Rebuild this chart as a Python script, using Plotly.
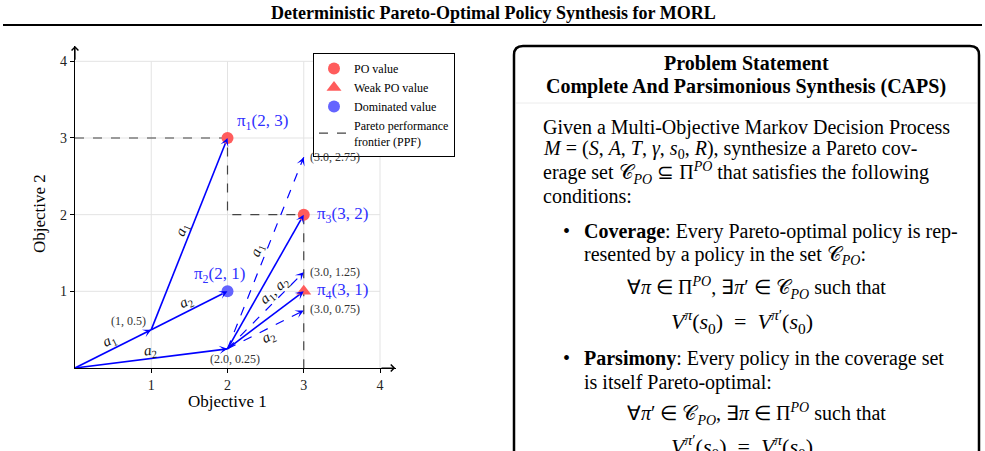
import plotly.graph_objects as go

W, H = 985, 451
SERIF = "Liberation Serif"

# ---------------- data ----------------
policy_labels = ["π<sub>1</sub>(2, 3)", "π<sub>2</sub>(2, 1)", "π<sub>3</sub>(3, 2)", "π<sub>4</sub>(3, 1)"]
policy_obj1 = [2, 2, 3, 3]
policy_obj2 = [3, 1, 2, 1]
policy_kind = ["PO", "Dominated", "PO", "Weak PO"]

ppf_obj1 = [0, 2, 2, 3, 3]
ppf_obj2 = [3, 3, 2, 2, 0]

arrow_x0 = [0, 1, 1, 0, 2, 2, 2, 2, 2]
arrow_y0 = [0, 0.5, 0.5, 0, 0.25, 0.25, 0.25, 0.25, 0.25]
arrow_x1 = [1, 2, 2, 2, 3, 3, 3, 3, 3]
arrow_y1 = [0.5, 3, 1, 0.25, 2, 2.75, 1, 1.25, 0.75]
arrow_dashed = [False, False, False, False, False, True, False, True, True]
arrow_label = ["<i>a</i><sub>1</sub>", "<i>a</i><sub>1</sub>", "<i>a</i><sub>2</sub>", "<i>a</i><sub>2</sub>", "",
               "<i>a</i><sub>1</sub>", "", "<i>a</i><sub>1</sub>, <i>a</i><sub>2</sub>", "<i>a</i><sub>2</sub>"]

state_obj1 = [1, 2, 3, 3, 3]
state_obj2 = [0.5, 0.25, 2.75, 1.25, 0.75]
state_text = ["(1, 0.5)", "(2.0, 0.25)", "(3.0, 2.75)", "(3.0, 1.25)", "(3.0, 0.75)"]

tick_vals = [1, 2, 3, 4]
tick_text = ["1", "2", "3", "4"]

# ---------------- styles / layout helpers ----------------
X0PX, Y0PX = 75, 368          # pixel position of origin
XR, YR = [0, 4.21], [0, 4.2]
XPPU = 76.25
YPPU = 76.67
xdom = [X0PX / W, (X0PX + XR[1] * XPPU) / W]
ydom = [(H - Y0PX) / H, (H - Y0PX + YR[1] * YPPU) / H]

def P(xpx):
    return xpx / W

def Q(ypx):
    return 1 - ypx / H

BLUE = "#0000ff"
LBLUE = "#3030ff"
RED = "#ff5c5c"
DBLUE = "#6464ff"

# label offsets (pixels) for arrow labels: (xshift, yshift, textangle, t along segment)
arrow_label_style = [(-4, 8, -26.7, 0.5), (-7, 4, -68, 0.5), (-3, 8, -26.7, 0.5), (-1, 7, -7.2, 0.5),
                     (0, 0, 0, 0.5), (-8, 3, -68, 0.5), (0, 0, 0, 0.5), (1, 12, -42, 0.6), (3, -7, -26.7, 0.5)]
policy_label_style = [("left", 7, 16), ("center", -8, 16), ("left", 11, 0), ("left", 11, 0)]
state_label_style = [("right", -3, 9), ("center", 7, -10), ("left", 4, 0), ("left", 4, 0), ("left", 4, 1)]

fig = go.Figure()

# arrows (shafts)
for x0, y0, x1, y1, d in zip(arrow_x0, arrow_y0, arrow_x1, arrow_y1, arrow_dashed):
    fig.add_trace(go.Scatter(x=[x0, x1], y=[y0, y1], mode="lines", showlegend=False, hoverinfo="skip",
                             cliponaxis=False,
                             line=dict(color=BLUE, width=1.2 if d else 1.6, dash="dash" if d else "solid")))

# Pareto performance frontier
fig.add_trace(go.Scatter(x=ppf_obj1, y=ppf_obj2, mode="lines", name="Pareto performance<br>frontier (PPF)",
                         legendrank=4, cliponaxis=False,
                         line=dict(color="#444444", width=1.2, dash="dash")))

kind_style = {"PO": ("PO value", "circle", RED, 12, 1),
              "Weak PO": ("Weak PO value", "triangle-up", RED, 13, 2),
              "Dominated": ("Dominated value", "circle", DBLUE, 12, 3)}
for kind in ["PO", "Weak PO", "Dominated"]:
    name, sym, col, sz, rank = kind_style[kind]
    xs = [x for x, k in zip(policy_obj1, policy_kind) if k == kind]
    ys = [y for y, k in zip(policy_obj2, policy_kind) if k == kind]
    fig.add_trace(go.Scatter(x=xs, y=ys, mode="markers", name=name, legendrank=rank, cliponaxis=False,
                             marker=dict(symbol=sym, size=sz, color=col, line=dict(width=0))))

annotations = []
# arrow heads
for x0, y0, x1, y1 in zip(arrow_x0, arrow_y0, arrow_x1, arrow_y1):
    dxp = (x1 - x0) * XPPU
    dyp = (y1 - y0) * YPPU
    L = (dxp ** 2 + dyp ** 2) ** 0.5
    f = 6.0 / L
    annotations.append(dict(x=x1, y=y1, ax=x1 - (x1 - x0) * f, ay=y1 - (y1 - y0) * f,
                            xref="x", yref="y", axref="x", ayref="y", text="", showarrow=True,
                            arrowhead=3, arrowsize=1.0, arrowwidth=1.4, arrowcolor=BLUE))

# arrow labels
for x0, y0, x1, y1, lab, st in zip(arrow_x0, arrow_y0, arrow_x1, arrow_y1, arrow_label, arrow_label_style):
    if not lab:
        continue
    xs, ys, ang, t = st
    annotations.append(dict(x=x0 + (x1 - x0) * t, y=y0 + (y1 - y0) * t, xref="x", yref="y",
                            text=lab, showarrow=False, xshift=xs, yshift=ys, textangle=ang,
                            xanchor="center", yanchor="middle",
                            font=dict(family=SERIF, size=15, color="#111111")))

# policy labels
for x, y, lab, st in zip(policy_obj1, policy_obj2, policy_labels, policy_label_style):
    xa, xs, ys = st
    annotations.append(dict(x=x, y=y, xref="x", yref="y", text=lab, showarrow=False, xanchor=xa,
                            yanchor="middle",
                            xshift=xs, yshift=ys, font=dict(family=SERIF, size=17, color=LBLUE)))

# state labels
for x, y, lab, st in zip(state_obj1, state_obj2, state_text, state_label_style):
    xa, xs, ys = st
    annotations.append(dict(x=x, y=y, xref="x", yref="y", text=lab, showarrow=False, xanchor=xa,
                            yanchor="middle",
                            xshift=xs, yshift=ys, font=dict(family=SERIF, size=12, color="#333333")))

# axis arrow tips
annotations.append(dict(x=4.2, y=0, ax=4.0, ay=0, xref="x", yref="y", axref="x", ayref="y", text="",
                        showarrow=True, arrowhead=4, arrowsize=1.1, arrowwidth=1.2, arrowcolor="black"))
annotations.append(dict(x=0, y=4.2, ax=0, ay=4.0, xref="x", yref="y", axref="x", ayref="y", text="",
                        showarrow=True, arrowhead=4, arrowsize=1.1, arrowwidth=1.2, arrowcolor="black"))

# axis titles
annotations.append(dict(x=P(227), y=Q(401), xref="paper", yref="paper", text="Objective 1", showarrow=False,
                        xanchor="center", yanchor="middle",
                        font=dict(family=SERIF, size=17, color="black")))
annotations.append(dict(x=P(39), y=Q(214), xref="paper", yref="paper", text="Objective 2", showarrow=False,
                        xanchor="center", yanchor="middle",
                        textangle=-90, font=dict(family=SERIF, size=17, color="black")))

# page title
annotations.append(dict(x=P(493), y=Q(13), xref="paper", yref="paper",
                        text="<b>Deterministic Pareto-Optimal Policy Synthesis for MORL</b>", showarrow=False,
                        xanchor="center", yanchor="middle",
                        font=dict(family=SERIF, size=18, color="black")))

# problem statement box text
CC = "𝒞"
SP = "\u2002"
box_lines = [
    ("<b>Problem Statement</b>", 746, 63, "center", 20),
    ("<b>Complete And Parsimonious Synthesis (CAPS)</b>", 746, 86, "center", 20),
    ("Given a Multi-Objective Markov Decision Process", 541, 127, "left", 20),
    ("<i>M</i> = (<i>S</i>, <i>A</i>, <i>T</i>, <i>γ</i>, <i>s</i><sub>0</sub>, <i>R</i>), synthesize a Pareto cov-",
     541, 150, "left", 20),
    ("erage set " + CC + "<sub><i>PO</i></sub> ⊆ Π<sup><i>PO</i></sup> that satisfies the following",
     541, 173, "left", 20),
    ("conditions:", 541, 196, "left", 20),
    ("•", 566, 231, "center", 20),
    ("<b>Coverage</b>: Every Pareto-optimal policy is rep-", 582, 231, "left", 20),
    ("resented by a policy in the set " + CC + "<sub><i>PO</i></sub>:", 582, 255, "left", 20),
    ("∀<i>π</i> ∈ Π<sup><i>PO</i></sup>, ∃<i>π</i>′ ∈ " + CC + "<sub><i>PO</i></sub> such that",
     756, 288, "center", 20),
    ("<i>V</i><sup><i>π</i></sup>(<i>s</i><sub>0</sub>)" + SP + "=" + SP +
     "<i>V</i><sup><i>π</i>′</sup>(<i>s</i><sub>0</sub>)", 742, 321, "center", 22),
    ("•", 566, 358, "center", 20),
    ("<b>Parsimony</b>: Every policy in the coverage set", 582, 358, "left", 20),
    ("is itself Pareto-optimal:", 582, 382, "left", 20),
    ("∀<i>π</i>′ ∈ " + CC + "<sub><i>PO</i></sub>, ∃<i>π</i> ∈ Π<sup><i>PO</i></sup> such that",
     756, 414, "center", 20),
    ("<i>V</i><sup><i>π</i>′</sup>(<i>s</i><sub>0</sub>)" + SP + "=" + SP +
     "<i>V</i><sup><i>π</i></sup>(<i>s</i><sub>0</sub>)", 742, 446, "center", 22),
]
for txt, xp, yp, xa, fs in box_lines:
    annotations.append(dict(x=P(xp), y=Q(yp), xref="paper", yref="paper", text=txt, showarrow=False,
                            xanchor=xa, yanchor="middle",
                            font=dict(family=SERIF, size=fs, color="black")))

shapes = []
# grid
for v in tick_vals:
    shapes.append(dict(type="line", xref="x", yref="y", x0=v, x1=v, y0=0, y1=4, layer="below",
                       line=dict(color="#e3e3e3", width=1)))
    shapes.append(dict(type="line", xref="x", yref="y", x0=0, x1=4, y0=v, y1=v, layer="below",
                       line=dict(color="#e3e3e3", width=1)))
# title rule
shapes.append(dict(type="line", xref="paper", yref="paper", x0=P(3), x1=P(982), y0=Q(25), y1=Q(25),
                   line=dict(color="black", width=2.2)))
# rounded box
bx0, bx1, by0 = P(514), P(979), Q(46)
rx, ry = 9 / W, 9 / H
path = (f"M {bx0},-0.1 L {bx0},{by0 - ry} Q {bx0},{by0} {bx0 + rx},{by0} "
        f"L {bx1 - rx},{by0} Q {bx1},{by0} {bx1},{by0 - ry} L {bx1},-0.1")
shapes.append(dict(type="path", xref="paper", yref="paper", path=path, line=dict(color="black", width=2.5)))
shapes.append(dict(type="line", xref="paper", yref="paper", x0=P(516), x1=P(977), y0=Q(103), y1=Q(103),
                   line=dict(color="#ececec", width=1)))

axis_common = dict(showgrid=False, zeroline=False, showline=True, linecolor="black", linewidth=1.2,
                   ticks="outside", ticklen=4, tickcolor="black", tickwidth=1,
                   tickvals=tick_vals, ticktext=tick_text,
                   tickfont=dict(family=SERIF, size=14, color="#222222"), fixedrange=True)

fig.update_layout(
    width=W, height=H,
    margin=dict(l=0, r=0, t=0, b=0),
    paper_bgcolor="white", plot_bgcolor="white",
    xaxis=dict(range=XR, domain=xdom, **axis_common),
    yaxis=dict(range=YR, domain=ydom, **axis_common),
    showlegend=True,
    legend=dict(x=P(313), y=Q(53), xanchor="left", yanchor="top", bgcolor="white",
                bordercolor="black", borderwidth=1, font=dict(family=SERIF, size=12, color="black"),
                itemwidth=30, tracegroupgap=0),
    annotations=annotations,
    shapes=shapes,
)

fig.write_html("out.html")
